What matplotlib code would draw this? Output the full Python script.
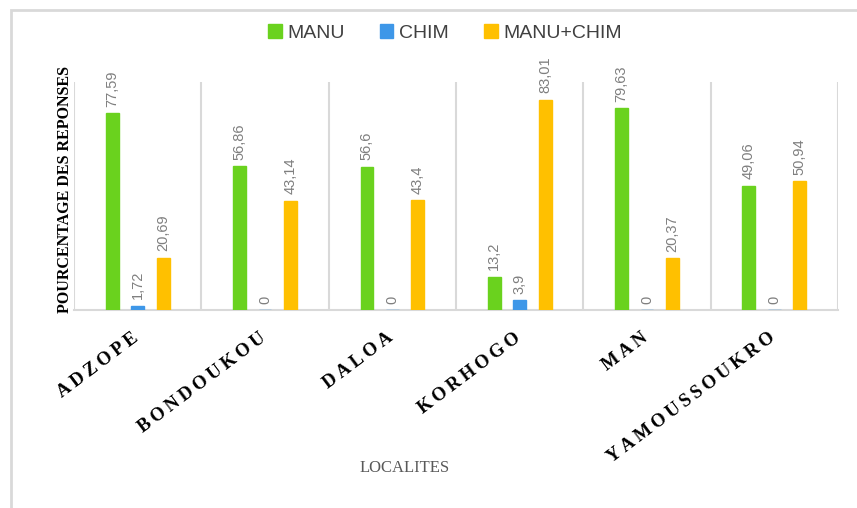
import matplotlib.pyplot as plt
import matplotlib.transforms as mtransforms
import numpy as np
from matplotlib.patches import Rectangle

localites = ["ADZOPE", "BONDOUKOU", "DALOA", "KORHOGO", "MAN", "YAMOUSSOUKRO"]
manu = [77.59, 56.86, 56.6, 13.2, 79.63, 49.06]
chim = [1.72, 0, 0, 3.9, 0, 0]
manu_chim = [20.69, 43.14, 43.4, 83.01, 20.37, 50.94]

series = [("MANU", manu, "#6AD21E"), ("CHIM", chim, "#3E97E8"), ("MANU+CHIM", manu_chim, "#FFC000")]

fig = plt.figure(figsize=(8.57, 5.08), dpi=100)
ax = fig.add_axes([74 / 857, 1 - 310 / 508, (838 - 74) / 857, (310 - 82) / 508])

# outer frame of the chart
fig.patches.append(Rectangle((11 / 857, -0.1), 1.2, 1.1 - 10 / 508, transform=fig.transFigure,
                             fill=False, edgecolor="#D9D9D9", linewidth=2))

x = np.arange(len(localites))
w = 0.1
for i, (name, vals, col) in enumerate(series):
    pos = x + (i - 1) * 0.2
    ax.bar(pos, vals, width=w, color=col, label=name, edgecolor=col, zorder=3)
    for p, v in zip(pos, vals):
        txt = f"{v:g}".replace(".", ",")
        ax.text(p, v + 2.5, txt, rotation=90, ha="center", va="bottom",
                fontsize=10.5, color="#7F7F7F", family="Liberation Sans")

ax.set_xlim(-0.5, len(localites) - 0.5)
ax.set_ylim(0, 90)
ax.set_yticks([])
ax.set_xticks(x)
# letter-spaced labels as in the original
spaced = ["\u2009".join(n) for n in localites]
ax.set_xticklabels(spaced, rotation=37, ha="right", va="top", rotation_mode="anchor",
                   family=["Liberation Serif", "DejaVu Serif"], fontweight="bold", fontsize=13.5)
ax.tick_params(axis="x", length=0, pad=14)
shift = mtransforms.ScaledTranslation(-6 / 100, 0, fig.dpi_scale_trans)
for lbl in ax.get_xticklabels():
    lbl.set_transform(lbl.get_transform() + shift)

# category separators
for b in np.arange(-0.5, len(localites), 1):
    ax.axvline(b, color="#D9D9D9", linewidth=1.5, zorder=1)
for s in ["top", "right", "left"]:
    ax.spines[s].set_visible(False)
ax.spines["bottom"].set_color("#D9D9D9")
ax.spines["bottom"].set_linewidth(1.5)

ax.set_ylabel("POURCENTAGE DES REPONSES", family="Liberation Serif",
              fontweight="bold", fontsize=11.5)
ax.yaxis.set_label_coords(-0.001, 0.53)
ax.set_xlabel("LOCALITES", family="Liberation Serif", fontsize=12, color="#595959")
ax.xaxis.set_label_coords(0.433, -0.66)

fig.legend(loc="center", bbox_to_anchor=(445 / 857, 1 - 33 / 508), ncol=3, frameon=False,
           prop={"family": "Liberation Sans", "size": 14}, handlelength=0.7,
           handleheight=0.7, handletextpad=0.3, columnspacing=1.8, labelcolor="#404040")

fig.savefig("out.png", dpi=100)
